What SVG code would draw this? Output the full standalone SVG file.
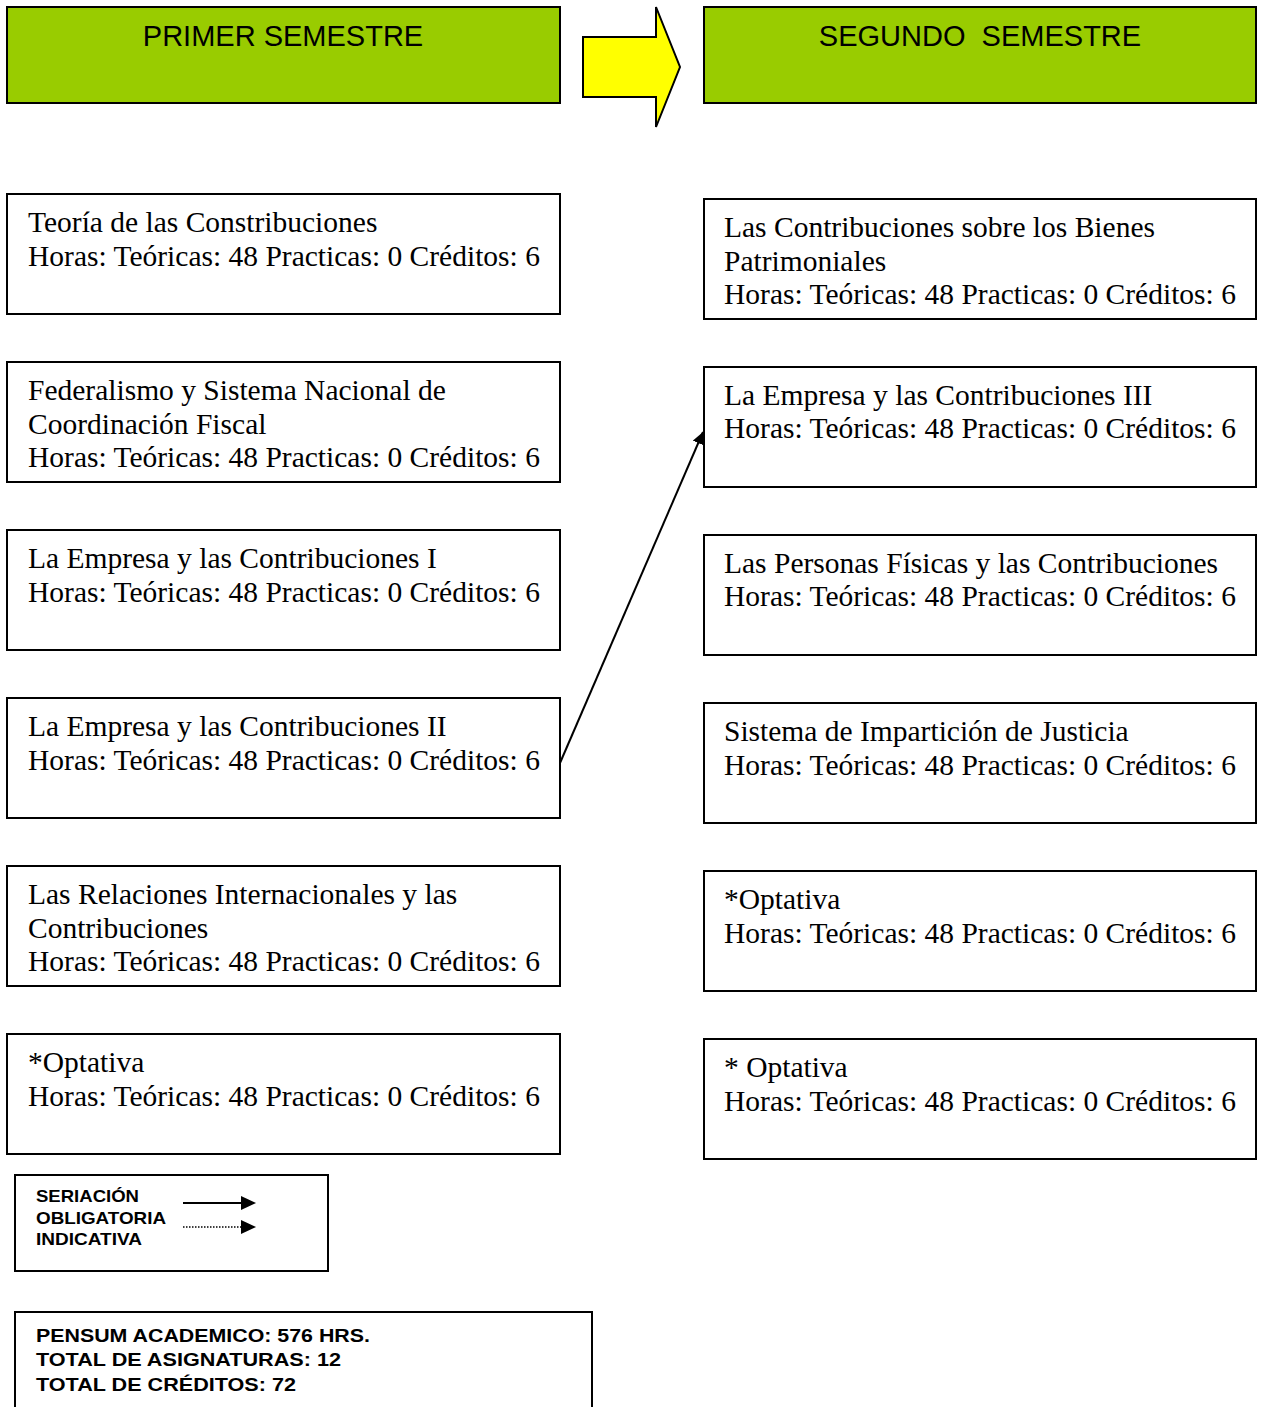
<svg xmlns="http://www.w3.org/2000/svg" width="1263" height="1407" viewBox="0 0 1263 1407">
<style>
.hdr{fill:#99cc00;stroke:#000;stroke-width:2}
.box{fill:#fff;stroke:#000;stroke-width:2}
.ht{font-family:"Liberation Sans",Arial,sans-serif;font-size:29px;fill:#000;text-anchor:middle}
.t{font-family:"Liberation Serif","Times New Roman",serif;font-size:29.5px;fill:#000}
.b{font-family:"Liberation Sans",Arial,sans-serif;font-weight:bold;fill:#000}
.c{stroke:#000;stroke-width:2;fill:none}
</style>
<defs>
<marker id="ah" viewBox="0 0 10 10" refX="10" refY="5" markerWidth="6" markerHeight="6" markerUnits="strokeWidth" orient="auto"><path d="M0,0 L10,5 L0,10 z" fill="#000"/></marker>
</defs>
<g id="hdr1"><rect class="hdr" x="7" y="7" width="553" height="96"/><text class="ht" x="283" y="46">PRIMER SEMESTRE</text></g>
<g id="bigarrow"><polygon points="583,37 656,37 656,7 680,67 656,127 656,97 583,97" fill="#ffff00" stroke="#000" stroke-width="2"/></g>
<g id="hdr2"><rect class="hdr" x="704" y="7" width="552" height="96"/><text class="ht" x="980" y="46" xml:space="preserve">SEGUNDO  SEMESTRE</text></g>

<g id="l1"><rect class="box" x="7" y="194" width="553" height="120"/><text class="t" x="28" y="232">Teoría de las Constribuciones</text><text class="t" x="28" y="266">Horas: Teóricas: 48 Practicas: 0 Créditos: 6</text></g>
<g id="l2"><rect class="box" x="7" y="362" width="553" height="120"/><text class="t" x="28" y="400">Federalismo y Sistema Nacional de</text><text class="t" x="28" y="434">Coordinación Fiscal</text><text class="t" x="28" y="467">Horas: Teóricas: 48 Practicas: 0 Créditos: 6</text></g>
<g id="l3"><rect class="box" x="7" y="530" width="553" height="120"/><text class="t" x="28" y="568">La Empresa y las Contribuciones I</text><text class="t" x="28" y="602">Horas: Teóricas: 48 Practicas: 0 Créditos: 6</text></g>
<g id="l4"><rect class="box" x="7" y="698" width="553" height="120"/><text class="t" x="28" y="736">La Empresa y las Contribuciones II</text><text class="t" x="28" y="770">Horas: Teóricas: 48 Practicas: 0 Créditos: 6</text></g>
<g id="l5"><rect class="box" x="7" y="866" width="553" height="120"/><text class="t" x="28" y="904">Las Relaciones Internacionales y las</text><text class="t" x="28" y="938">Contribuciones</text><text class="t" x="28" y="971">Horas: Teóricas: 48 Practicas: 0 Créditos: 6</text></g>
<g id="l6"><rect class="box" x="7" y="1034" width="553" height="120"/><text class="t" x="28" y="1072">*Optativa</text><text class="t" x="28" y="1106">Horas: Teóricas: 48 Practicas: 0 Créditos: 6</text></g>

<g id="r1"><rect class="box" x="704" y="199" width="552" height="120"/><text class="t" x="724" y="237">Las Contribuciones sobre los Bienes</text><text class="t" x="724" y="271">Patrimoniales</text><text class="t" x="724" y="304">Horas: Teóricas: 48 Practicas: 0 Créditos: 6</text></g>
<g id="r2"><rect class="box" x="704" y="367" width="552" height="120"/><text class="t" x="724" y="405">La Empresa y las Contribuciones III</text><text class="t" x="724" y="438">Horas: Teóricas: 48 Practicas: 0 Créditos: 6</text></g>
<g id="r3"><rect class="box" x="704" y="535" width="552" height="120"/><text class="t" x="724" y="573">Las Personas Físicas y las Contribuciones</text><text class="t" x="724" y="606">Horas: Teóricas: 48 Practicas: 0 Créditos: 6</text></g>
<g id="r4"><rect class="box" x="704" y="703" width="552" height="120"/><text class="t" x="724" y="741">Sistema de Impartición de Justicia</text><text class="t" x="724" y="775">Horas: Teóricas: 48 Practicas: 0 Créditos: 6</text></g>
<g id="r5"><rect class="box" x="704" y="871" width="552" height="120"/><text class="t" x="724" y="909">*Optativa</text><text class="t" x="724" y="943">Horas: Teóricas: 48 Practicas: 0 Créditos: 6</text></g>
<g id="r6"><rect class="box" x="704" y="1039" width="552" height="120"/><text class="t" x="724" y="1077">* Optativa</text><text class="t" x="724" y="1111">Horas: Teóricas: 48 Practicas: 0 Créditos: 6</text></g>

<g id="legend"><rect class="box" x="15" y="1175" width="313" height="96"/>
<text class="b" font-size="17" x="36" y="1202" textLength="103" lengthAdjust="spacingAndGlyphs">SERIACIÓN</text>
<text class="b" font-size="17" x="36" y="1224" textLength="130" lengthAdjust="spacingAndGlyphs">OBLIGATORIA</text>
<text class="b" font-size="17" x="36" y="1245" textLength="106" lengthAdjust="spacingAndGlyphs">INDICATIVA</text>
<line x1="183" y1="1203" x2="243" y2="1203" stroke="#000" stroke-width="2"/>
<polygon points="241,1196 256,1203 241,1210" fill="#000"/>
<line x1="183" y1="1227" x2="243" y2="1227" stroke="#000" stroke-width="1.5" stroke-dasharray="1.5,1.5"/>
<polygon points="241,1220 256,1227 241,1234" fill="#000"/>
</g>
<g id="totals"><rect class="box" x="15" y="1312" width="577" height="110"/>
<text class="b" font-size="19" x="36" y="1342" textLength="334" lengthAdjust="spacingAndGlyphs">PENSUM ACADEMICO: 576 HRS.</text>
<text class="b" font-size="19" x="36" y="1366" textLength="305" lengthAdjust="spacingAndGlyphs">TOTAL DE ASIGNATURAS: 12</text>
<text class="b" font-size="19" x="36" y="1391" textLength="260" lengthAdjust="spacingAndGlyphs">TOTAL DE CRÉDITOS: 72</text>
</g>
<g id="connectors"><line class="c" x1="560" y1="763" x2="703" y2="432" marker-end="url(#ah)"/></g>
</svg>
